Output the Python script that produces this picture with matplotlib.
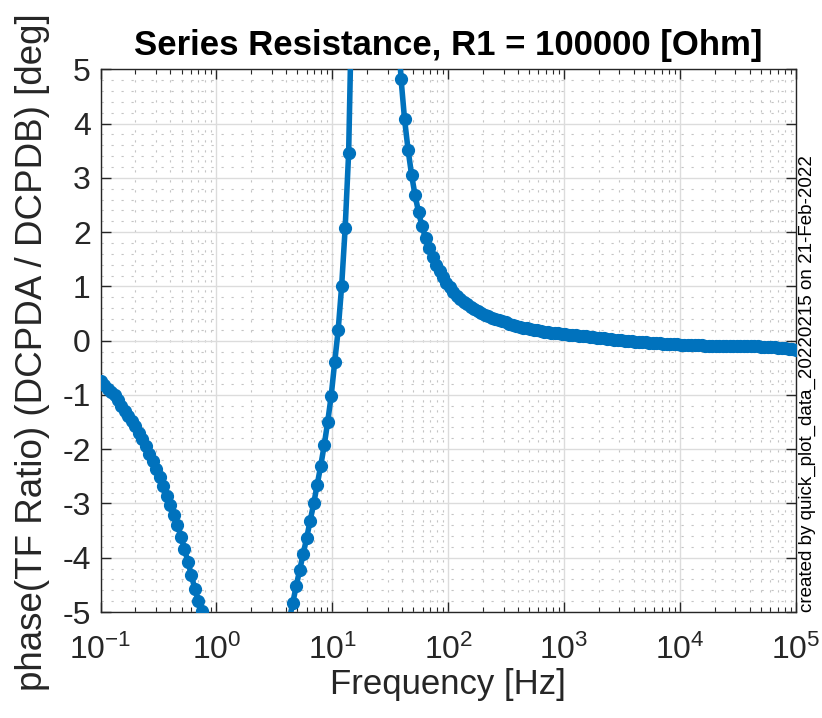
import numpy as np
import matplotlib
matplotlib.use("Agg")
import matplotlib.pyplot as plt
from matplotlib.ticker import LogLocator, MultipleLocator, NullFormatter

# CONFIG
OUT_PATH = "out.png"
LINE_COLOR = "#0072BD"
AXIS_COLOR = "#262626"

# sweep: 200 log-spaced points from 0.1 Hz to 100 kHz
NUM_POINTS = 200
freq = np.logspace(-1, 5, NUM_POINTS)

# phase [deg], per sweep index; points far off-scale are left out
LOW_START = 0    # samples 0..30
phase_low = [
    -0.74, -0.82, -0.89, -0.94, -1.00, -1.10, -1.20, -1.29, -1.38, -1.48,
    -1.58, -1.70, -1.82, -1.95, -2.08, -2.21, -2.36, -2.52, -2.68, -2.86,
    -3.03, -3.21, -3.40, -3.61, -3.84, -4.07, -4.32, -4.58, -4.80, -4.98,
    -5.25,
]
MID_START = 54   # samples 54..72
phase_mid = [
    -5.15, -4.83, -4.52, -4.22, -3.93, -3.63, -3.32, -3.00, -2.66, -2.31,
    -1.93, -1.50, -1.02, -0.40, 0.19, 1.01, 2.07, 3.46, 6.6,
]
HIGH_START = 85  # samples 85..199
phase_high = [
    5.9, 4.82, 4.08, 3.52, 3.06, 2.68, 2.37, 2.11, 1.89, 1.70,
    1.54, 1.40, 1.28, 1.17, 1.07, 0.98, 0.90, 0.83, 0.77, 0.72,
    0.67, 0.62, 0.58, 0.54, 0.51, 0.475, 0.45, 0.425, 0.40, 0.375,
    0.355, 0.335, 0.315, 0.295, 0.275, 0.258, 0.242, 0.227, 0.213, 0.200,
    0.189, 0.178, 0.168, 0.159, 0.150, 0.142, 0.134, 0.126, 0.119, 0.112,
    0.105, 0.098, 0.091, 0.084, 0.077, 0.070, 0.062, 0.055, 0.048, 0.041,
    0.034, 0.027, 0.020, 0.013, 0.007, 0.001, -0.005, -0.011, -0.017, -0.022,
    -0.027, -0.032, -0.037, -0.041, -0.045, -0.049, -0.053, -0.057, -0.061, -0.065,
    -0.069, -0.073, -0.076, -0.079, -0.082, -0.085, -0.087, -0.089, -0.091, -0.093,
    -0.095, -0.097, -0.098, -0.099, -0.100, -0.100, -0.100, -0.100, -0.100, -0.101,
    -0.102, -0.103, -0.105, -0.107, -0.109, -0.111, -0.114, -0.118, -0.122, -0.127,
    -0.133, -0.140, -0.148, -0.160, -0.180,
]

TITLE = "Series Resistance, R1 = 100000 [Ohm]"
XLABEL = "Frequency [Hz]"
YLABEL = "phase(TF Ratio) (DCPDA / DCPDB) [deg]"
STAMP = "created by quick_plot_data_20220215 on 21-Feb-2022"


def build_phase():
    phase = np.full(NUM_POINTS, np.nan)
    for start, vals in [(LOW_START, phase_low), (MID_START, phase_mid), (HIGH_START, phase_high)]:
        phase[start:start + len(vals)] = vals
    return phase


def main():
    plt.rcParams['font.family'] = ['Liberation Sans', 'DejaVu Sans']
    plt.rcParams['mathtext.fontset'] = 'custom'
    plt.rcParams['mathtext.rm'] = 'Liberation Sans'
    plt.rcParams['mathtext.it'] = 'Liberation Sans:italic'
    plt.rcParams['mathtext.bf'] = 'Liberation Sans:bold'
    plt.rcParams['axes.unicode_minus'] = False

    phase = build_phase()

    fig = plt.figure(figsize=(8.22, 7.18), dpi=100)
    ax = fig.add_axes([0.1223, 0.1476, 0.8460, 0.7559])

    ax.semilogx(freq, phase, '-o', color=LINE_COLOR, lw=4.0, ms=8.5,
                mfc=LINE_COLOR, mec=LINE_COLOR, clip_on=True, zorder=3)

    ax.set_xlim(1e-1, 1e5)
    ax.set_ylim(-5, 5)

    ax.xaxis.set_major_locator(LogLocator(base=10, numticks=20))
    ax.xaxis.set_minor_locator(LogLocator(base=10, subs=np.arange(2, 10), numticks=20))
    ax.xaxis.set_minor_formatter(NullFormatter())
    ax.yaxis.set_major_locator(MultipleLocator(1))
    ax.yaxis.set_minor_locator(MultipleLocator(0.2))

    # matlab-ish grid: solid light major, sparse dotted minor
    ax.set_axisbelow(True)
    ax.grid(True, which='major', color='#dcdcdc', lw=1.0, ls='-')
    ax.grid(True, which='minor', color='#c4c4c4', lw=0.8, ls=(0, (2, 7)))

    ax.tick_params(which='both', direction='in', top=True, right=True,
                   colors=AXIS_COLOR, labelsize=23, pad=7)
    ax.tick_params(axis='x', pad=16)
    ax.tick_params(which='major', length=7, width=1)
    ax.tick_params(axis='x', which='minor', length=3.5, width=0.8)
    ax.tick_params(axis='y', which='minor', length=0)
    for sp in ax.spines.values():
        sp.set_color(AXIS_COLOR)
        sp.set_linewidth(1.0)

    ax.set_title(TITLE, fontsize=25, fontweight='bold', color='black', pad=10)
    ax.set_xlabel(XLABEL, fontsize=25, color=AXIS_COLOR, labelpad=2)
    ax.set_ylabel(YLABEL, fontsize=26.5, color=AXIS_COLOR)
    ax.yaxis.set_label_coords(-0.073, 0.478)

    fig.text(0.972, 0.1476, STAMP, rotation=90, ha='left', va='bottom',
             fontsize=13.5, color='black')

    fig.savefig(OUT_PATH, dpi=100)


if __name__ == "__main__":
    main()
